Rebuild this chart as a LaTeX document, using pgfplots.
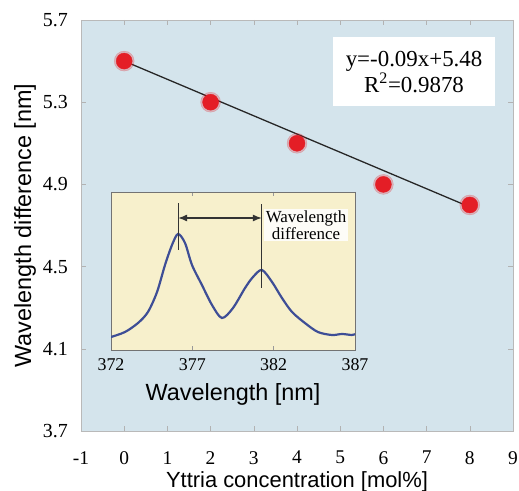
\documentclass[border=0pt]{standalone}
\usepackage{pgfplots}
\pgfplotsset{compat=1.18}
\usetikzlibrary{arrows.meta}
\usepackage{fontspec}
\setmainfont{Liberation Serif}
\setsansfont{Liberation Sans}
\definecolor{bgblue}{RGB}{212,228,236}
\definecolor{bgyel}{RGB}{247,240,204}
\definecolor{dotred}{RGB}{228,30,38}
\definecolor{curve}{RGB}{62,78,150}
\begin{document}
\begin{tikzpicture}
\useasboundingbox (-81bp,-60bp) rectangle (438bp,431bp);
\begin{axis}[at={(0,0)}, anchor=south west, scale only axis,
  width=432bp, height=411bp,
  xmin=-1, xmax=9, ymin=3.7, ymax=5.7,
  xtick={-1,0,1,2,3,4,5,6,7,8,9},
  ytick={3.7,4.1,4.5,4.9,5.3,5.7},
  /pgf/number format/assume math mode=true,
  yticklabel style={/pgf/number format/fixed, /pgf/number format/fixed zerofill, /pgf/number format/precision=1},
  axis background/.style={fill=bgblue},
  axis line style={gray!55, line width=0.8pt},
  tick style={gray!60, line width=0.6pt},
  major tick length=5bp,
  ticklabel style={font=\fontsize{20}{20}\selectfont, inner sep=0pt},
  xticklabel style={anchor=north, yshift=-20bp, font=\fontsize{19.5}{20}\selectfont},
  yticklabel style={anchor=east, xshift=-13bp},
  xlabel={Yttria concentration [mol\%]},
  ylabel={Wavelength difference [nm]},
  label style={font=\sffamily\fontsize{23.5}{24}\selectfont},
  xlabel style={at={(axis description cs:0.5,-0.1363)}, anchor=base, font=\sffamily\fontsize{22}{22}\selectfont},
  ylabel style={at={(axis description cs:-0.1157,0.5)}, anchor=base},
]
\addplot[black!85, line width=1.3pt] coordinates {(0,5.5) (8,4.79)};
\addplot[only marks, color=dotred, mark=*, mark size=10bp, mark options={fill=dotred, draw=none, opacity=0.25}] coordinates {(0,5.5) (2,5.3) (4,5.1) (6,4.9) (8,4.8)};
\addplot[only marks, color=dotred, mark=*, mark size=8bp, mark options={fill=dotred, draw=dotred}] coordinates {(0,5.5) (2,5.3) (4,5.1) (6,4.9) (8,4.8)};
\node[fill=white, align=center, minimum width=162bp, minimum height=69bp, inner sep=0pt,
  font=\fontsize{23}{26}\selectfont] at (axis cs:6.71,5.447) {y=-0.09x+5.48\\R\textsuperscript{2}=0.9878};
\end{axis}
\begin{axis}[at={(30bp,81bp)}, anchor=south west, scale only axis,
  width=244bp, height=158bp,
  xmin=372, xmax=387, ymin=0, ymax=158,
  xtick={372,377,382,387}, ytick=\empty,
  /pgf/number format/assume math mode=true,
  axis background/.style={fill=bgyel},
  axis line style={black!55, line width=0.8pt},
  tick style={black!40, line width=0.6pt},
  major tick length=4bp,
  ticklabel style={font=\fontsize{18}{18}\selectfont, inner sep=0pt},
  xticklabel style={anchor=north, yshift=-8bp},
  xlabel={Wavelength [nm]},
  label style={font=\sffamily\fontsize{23.5}{24}\selectfont},
  xlabel style={at={(axis description cs:0.5,-0.3165)}, anchor=base},
]
\addplot[curve, line width=2.2pt, smooth, tension=0.5] coordinates {
(372.0,13) (372.86,18) (373.66,27) (374.27,38) (374.83,58) (375.32,85) (375.75,105)
(376.12,116) (376.55,107) (376.98,85) (377.59,65) (378.21,45) (378.82,32) (379.50,42)
(380.24,62) (380.73,73) (381.28,80) (381.90,68) (382.51,52) (383.13,38) (383.92,27)
(384.72,18) (385.58,15) (386.2,16) (386.81,15) (387,16)};
\addplot[black!80, line width=1pt] coordinates {(376.12,100) (376.12,147)};
\addplot[black!80, line width=1pt] coordinates {(381.28,62) (381.28,146)};
\addplot[black!80, line width=1.5pt, {Latex[length=9bp,width=7bp]}-{Latex[length=9bp,width=7bp]}] coordinates {(376.12,132) (381.28,132)};
\node[fill=white, fill opacity=0.85, text opacity=1, align=center, inner sep=1.5pt,
  font=\fontsize{17}{15}\selectfont] at (axis cs:383.99,125) {Wavelength\\difference};
\end{axis}
\end{tikzpicture}
\end{document}
